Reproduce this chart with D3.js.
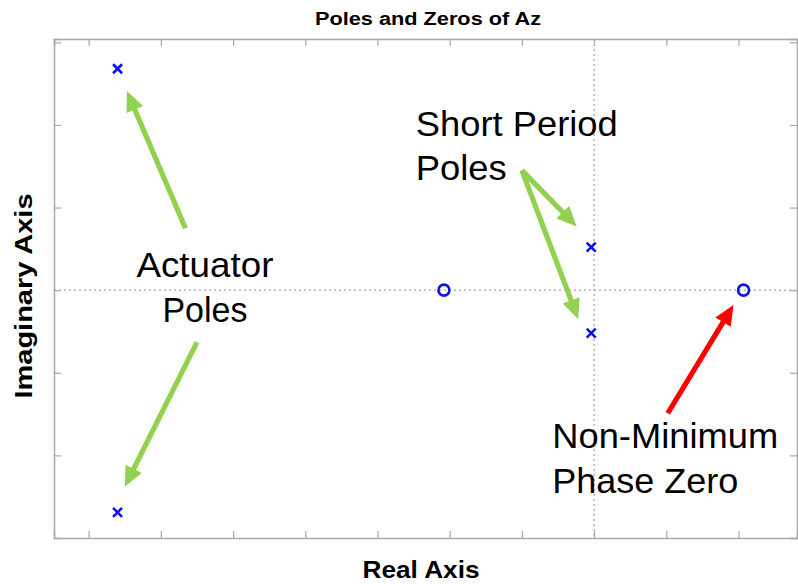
<!DOCTYPE html>
<html><head><meta charset="utf-8">
<script src="https://cdn.jsdelivr.net/npm/d3@7"></script>
<style>html,body{margin:0;padding:0;background:#fff;}svg{display:block;}</style>
</head><body>
<script>
// ---- data ----
const titleText = "Poles and Zeros of Az";
const xLabel = "Real Axis";
const yLabel = "Imaginary Axis";
const xDomain = [-7.48, 2.81];
const yDomain = [-3.0, 3.04];
const xTicks = [-7, -6, -5, -4, -3, -2, -1, 0, 1, 2];
const yTicks = [-2, -1, 0, 1, 2, 3];
const polesRe = [-6.6, -6.6, -0.04, -0.04];
const polesIm = [2.68, -2.69, 0.52, -0.52];
const zerosRe = [-2.08, 2.07];
const zerosIm = [0, 0];
// annotation arrows [x1,y1,x2,y2] in data units (tail -> tip)
const greenArrows = [
  [-5.66, 0.75, -6.47, 2.41],
  [-5.50, -0.63, -6.50, -2.38],
  [-1.00, 1.45, -0.24, 0.77],
  [-1.00, 1.45, -0.22, -0.35]
];
const redArrows = [[1.02, -1.49, 1.93, -0.18]];
// annotation labels: text, x, y (data), anchor
const noteText = ["Short Period", "Poles", "Actuator", "Poles", "Non-Minimum", "Phase Zero"];
const noteX = [-2.47, -2.47, -5.39, -5.39, -0.58, -0.58];
const noteY = [1.86, 1.33, 0.16, -0.39, -1.91, -2.46];
const noteAnchor = ["start", "start", "middle", "middle", "start", "start"];
const noteLen = [202, 91, 137, 85, 226, 186];

// ---- layout ----
const W = 798, H = 584;
const L = 54, R = 797, T = 39, B = 538;
const svg = d3.select("body").append("svg").attr("width", W).attr("height", H);
const x = d3.scaleLinear().domain(xDomain).range([L, R]);
const y = d3.scaleLinear().domain(yDomain).range([B, T]);

const gridC = "#8c8c8c", frameC = "#a8a8a8";

// dotted zero lines
svg.append("line").attr("x1", L).attr("x2", R).attr("y1", y(0)).attr("y2", y(0))
  .attr("stroke", gridC).attr("stroke-width", 1).attr("stroke-dasharray", "2,3");
svg.append("line").attr("x1", x(0)).attr("x2", x(0)).attr("y1", T).attr("y2", B)
  .attr("stroke", gridC).attr("stroke-width", 1).attr("stroke-dasharray", "2,3");

// axes (ticks inward, no labels)
const tl = 7;
const axB = d3.axisBottom(x).tickValues(xTicks).tickSize(-tl).tickFormat("");
const axT = d3.axisTop(x).tickValues(xTicks).tickSize(-tl).tickFormat("");
const axL = d3.axisLeft(y).tickValues(yTicks).tickSize(-tl).tickFormat("");
const axR = d3.axisRight(y).tickValues(yTicks).tickSize(-tl).tickFormat("");
[[axB, `translate(0,${B})`], [axT, `translate(0,${T})`], [axL, `translate(${L},0)`], [axR, `translate(${R},0)`]]
  .forEach(([a, t]) => {
    const g = svg.append("g").attr("transform", t).call(a);
    g.selectAll("path.domain").attr("stroke", frameC).attr("stroke-width", 1.5);
    g.selectAll(".tick line").attr("stroke", frameC).attr("stroke-width", 1.2);
  });

// arrows
function arrow(d, color) {
  const x1 = x(d[0]), y1 = y(d[1]), x2 = x(d[2]), y2 = y(d[3]);
  const dx = x2 - x1, dy = y2 - y1, len = Math.hypot(dx, dy);
  const ux = dx / len, uy = dy / len, px = -uy, py = ux;
  const hl = 20, hw = 9, sw = 2.6;
  const bx = x2 - ux * hl, by = y2 - uy * hl;
  const pts = [
    [x1 + px * sw, y1 + py * sw], [bx + px * sw, by + py * sw], [bx + px * hw, by + py * hw],
    [x2, y2], [bx - px * hw, by - py * hw], [bx - px * sw, by - py * sw], [x1 - px * sw, y1 - py * sw]
  ];
  svg.append("polygon").attr("points", pts.map(p => p.join(",")).join(" ")).attr("fill", color);
}
greenArrows.forEach(d => arrow(d, "#92d050"));
redArrows.forEach(d => arrow(d, "#ff0000"));

// poles (x marks)
const blue = "#1010e8";
const s = 4.5;
polesRe.forEach((re, i) => {
  const cx = x(re), cy = y(polesIm[i]);
  svg.append("path").attr("d", `M${cx - s},${cy - s}L${cx + s},${cy + s}M${cx - s},${cy + s}L${cx + s},${cy - s}`)
    .attr("stroke", blue).attr("stroke-width", 2.6).attr("fill", "none");
});
// zeros (circles)
zerosRe.forEach((re, i) => {
  svg.append("circle").attr("cx", x(re)).attr("cy", y(zerosIm[i])).attr("r", 5.5)
    .attr("fill", "none").attr("stroke", blue).attr("stroke-width", 2.6);
});

// annotation text
noteText.forEach((t, i) => {
  svg.append("text").attr("x", x(noteX[i])).attr("y", y(noteY[i]))
    .attr("text-anchor", noteAnchor[i])
    .attr("font-family", "Liberation Sans, Arial, sans-serif").attr("font-size", 35)
    .attr("fill", "#000")
    .attr("textLength", noteLen[i]).attr("lengthAdjust", "spacingAndGlyphs")
    .text(t);
});

// title & labels
svg.append("text").attr("x", 428).attr("y", 25).attr("text-anchor", "middle")
  .attr("font-family", "Liberation Sans, Arial, sans-serif").attr("font-weight", "bold").attr("font-size", 18)
  .attr("textLength", 226).attr("lengthAdjust", "spacingAndGlyphs").text(titleText);
svg.append("text").attr("x", 421).attr("y", 578).attr("text-anchor", "middle")
  .attr("font-family", "Liberation Sans, Arial, sans-serif").attr("font-weight", "bold").attr("font-size", 24)
  .attr("textLength", 117).attr("lengthAdjust", "spacingAndGlyphs").text(xLabel);
svg.append("text").attr("transform", "translate(32,296) rotate(-90)").attr("text-anchor", "middle")
  .attr("font-family", "Liberation Sans, Arial, sans-serif").attr("font-weight", "bold").attr("font-size", 24)
  .attr("textLength", 205).attr("lengthAdjust", "spacingAndGlyphs").text(yLabel);
</script>
</body></html>
